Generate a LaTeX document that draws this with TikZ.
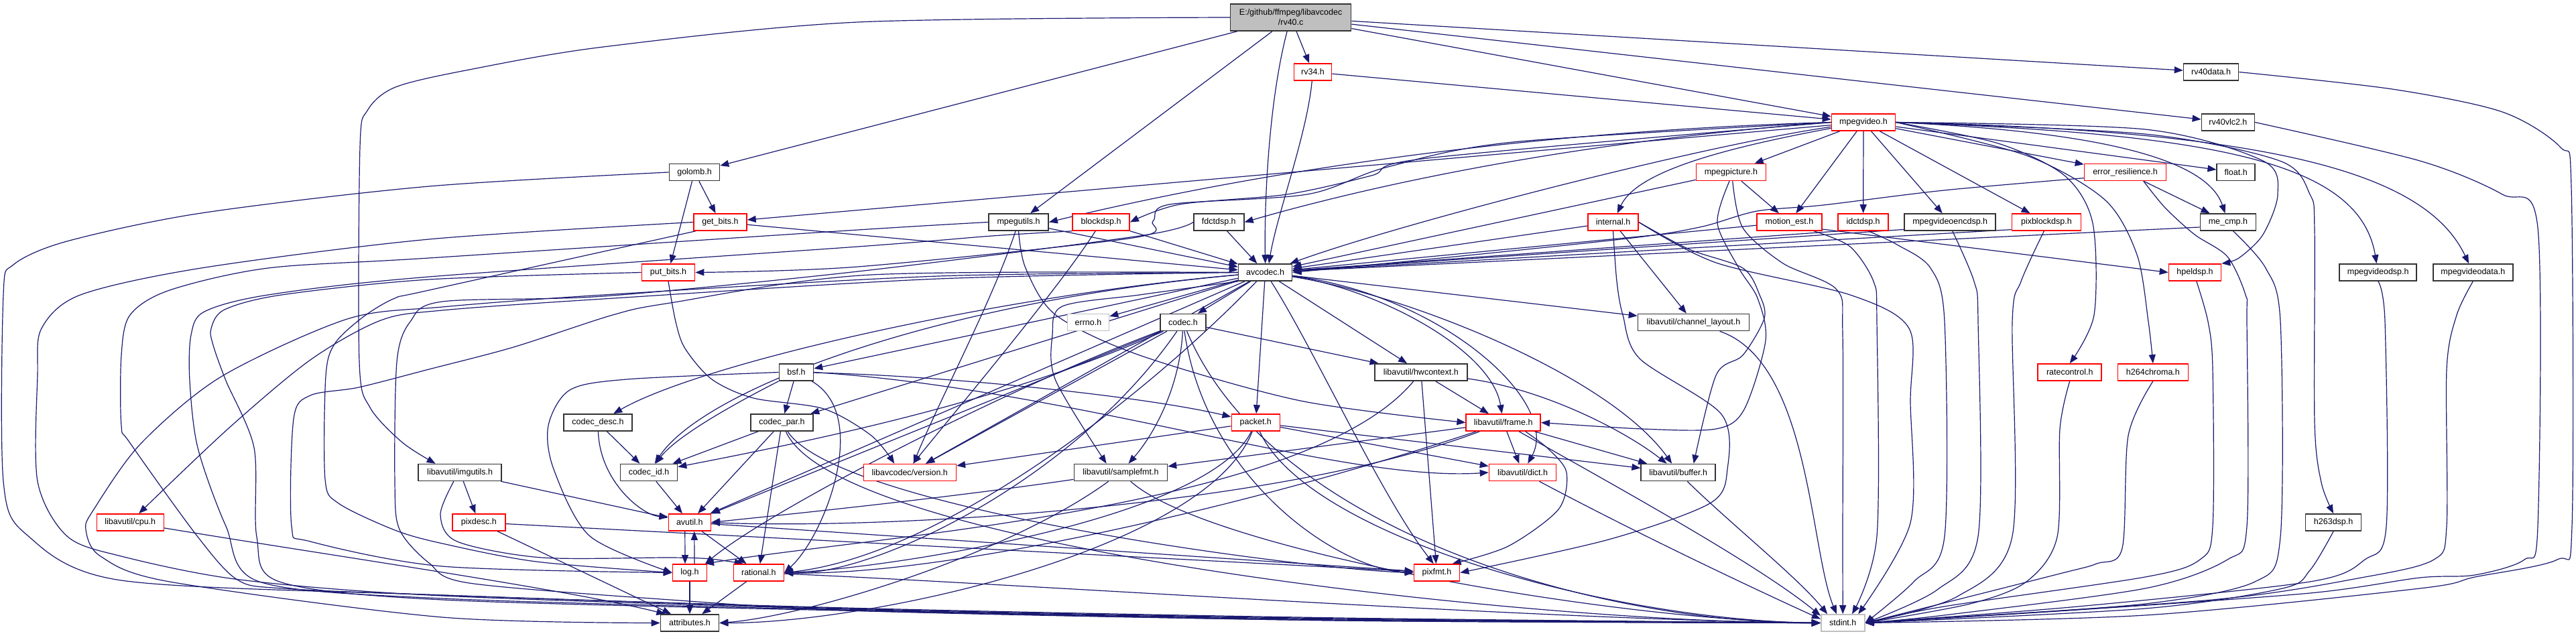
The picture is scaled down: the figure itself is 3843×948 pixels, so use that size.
\documentclass[tikz,border=0pt]{standalone}
\usepackage{fontspec}
\setmainfont{Liberation Sans}
\usetikzlibrary{arrows.meta}
\definecolor{edgeblue}{RGB}{25,25,112}
\definecolor{nodered}{RGB}{255,0,0}
\definecolor{nodeblack}{RGB}{51,51,51}
\definecolor{nodegray}{RGB}{191,191,191}
\definecolor{rootfill}{RGB}{191,191,191}
\pgfdeclarelayer{bgl}
\pgfdeclarelayer{edgel}
\pgfsetlayers{bgl,edgel,main}
\newcommand{\nfont}{\fontsize{12.5}{15}\selectfont}
\tikzset{
  hnode/.style={draw=nodeblack, line width=1.6pt, minimum height=25pt, inner sep=0pt, font=\nfont, fill=white, text=black},
  rnode/.style={hnode, draw=nodered},
  gnode/.style={hnode, draw=nodegray},
  edg/.style={draw=edgeblue, line width=1.2pt, -{Triangle[length=13pt,width=10pt]}},
  sm/.style={smooth, tension=0.5}
}
\begin{document}
\begin{tikzpicture}[x=1pt,y=-1pt]
\useasboundingbox (0,0) rectangle (3843,948);
\begin{pgfonlayer}{bgl}
\fill[white] (0,0) rectangle (3843,948);
\end{pgfonlayer}
% ---------------- nodes ----------------
\node[hnode, fill=rootfill, minimum width=180pt, minimum height=40pt, align=center] (root) at (1925.6,26) {E:/github/ffmpeg/libavcodec\\/rv40.c};
\node[rnode, minimum width=56pt] (rvtf) at (1958.5,107.5) {rv34.h};
\node[hnode, minimum width=82pt] (rvdata) at (3298.6,107.5) {rv40data.h};
\node[hnode, minimum width=79pt] (rvvlc) at (3323.9,182.5) {rv40vlc2.h};
\node[rnode, minimum width=95pt] (mpv) at (2780,182.5) {mpegvideo.h};
\node[hnode, minimum width=75pt] (golomb) at (1036,257) {golomb.h};
\node[rnode, minimum width=104pt] (mpic) at (2582.4,257) {mpegpicture.h};
\node[rnode, minimum width=122pt] (er) at (3170.5,257) {error\_resilience.h};
\node[hnode, minimum width=57pt] (flt) at (3335.7,257) {float.h};
\node[rnode, minimum width=79pt] (getb) at (1074.4,331.5) {get\_bits.h};
\node[hnode, minimum width=89pt] (mpu) at (1519.5,331.5) {mpegutils.h};
\node[rnode, minimum width=85pt] (bdsp) at (1642.6,331.5) {blockdsp.h};
\node[hnode, minimum width=75pt] (fdct) at (1818.3,331.5) {fdctdsp.h};
\node[rnode, minimum width=75pt] (internal) at (2406.5,331.5) {internal.h};
\node[rnode, minimum width=97pt] (me) at (2669.4,331.5) {motion\_est.h};
\node[rnode, minimum width=75pt] (idct) at (2779.6,331.5) {idctdsp.h};
\node[hnode, minimum width=136pt] (mpve) at (2909.2,331.5) {mpegvideoencdsp.h};
\node[rnode, minimum width=103pt] (pixb) at (3052.9,331.5) {pixblockdsp.h};
\node[hnode, minimum width=83pt] (mecmp) at (3323.9,331.5) {me\_cmp.h};
\node[rnode, minimum width=79pt] (putb) at (997,406.5) {put\_bits.h};
\node[hnode, minimum width=80pt] (avc) at (1887.6,406.5) {avcodec.h};
\node[rnode, minimum width=78pt] (hpel) at (3274.5,406.5) {hpeldsp.h};
\node[hnode, minimum width=115pt] (mvdsp) at (3547.7,406.5) {mpegvideodsp.h};
\node[hnode, minimum width=119pt] (mvdata) at (3689.3,406.5) {mpegvideodata.h};
\node[gnode, minimum width=62pt] (errno) at (1623.5,481) {errno.h};
\node[hnode, minimum width=68pt] (codec) at (1765,481) {codec.h};
\node[hnode, minimum width=166pt] (chl) at (2526.5,481) {libavutil/channel\_layout.h};
\node[hnode, minimum width=51pt] (bsf) at (1187.9,555.5) {bsf.h};
\node[hnode, minimum width=138pt] (hw) at (2119.8,555.5) {libavutil/hwcontext.h};
\node[rnode, minimum width=95pt] (rc) at (3087.7,555.5) {ratecontrol.h};
\node[rnode, minimum width=105pt] (h264) at (3211.9,555.5) {h264chroma.h};
\node[hnode, minimum width=102pt] (cdesc) at (892,630.5) {codec\_desc.h};
\node[hnode, minimum width=93pt] (cpar) at (1166.5,630.5) {codec\_par.h};
\node[rnode, minimum width=72pt] (packet) at (1873.3,630.5) {packet.h};
\node[rnode, minimum width=111pt] (frame) at (2242.7,630.5) {libavutil/frame.h};
\node[hnode, minimum width=124pt] (imgu) at (686.2,705) {libavutil/imgutils.h};
\node[hnode, minimum width=85pt] (cid) at (968,705) {codec\_id.h};
\node[rnode, minimum width=138pt] (ver) at (1357.3,705) {libavcodec/version.h};
\node[hnode, minimum width=139pt] (sfmt) at (1671.9,705) {libavutil/samplefmt.h};
\node[rnode, minimum width=100pt] (dict) at (2271.5,705) {libavutil/dict.h};
\node[hnode, minimum width=111pt] (buffer) at (2503.7,705) {libavutil/buffer.h};
\node[rnode, minimum width=100pt] (cpu) at (194.3,779.5) {libavutil/cpu.h};
\node[rnode, minimum width=79pt] (pixdesc) at (714.3,779.5) {pixdesc.h};
\node[rnode, minimum width=63pt] (avutil) at (1028.8,779.5) {avutil.h};
\node[hnode, minimum width=83pt] (h263) at (3481.1,779.5) {h263dsp.h};
\node[rnode, minimum width=51pt] (log) at (1029,854.5) {log.h};
\node[rnode, minimum width=75pt] (rational) at (1131.8,854.5) {rational.h};
\node[rnode, minimum width=68pt] (pixfmt) at (2143.5,854.5) {pixfmt.h};
\node[hnode, minimum width=87pt] (attr) at (1029,929.5) {attributes.h};
\node[gnode, minimum width=65pt] (stdint) at (2749.2,929.5) {stdint.h};
% ---------------- edges ----------------
\begin{pgfonlayer}{edgel}
% root
\draw[edg] plot[sm] coordinates {(root.west) (1280,33) (900,70) (700,104) (590,130) (548,165) (537,220) (536,540) (552,608) (600,660) (imgu.160)};
\draw[edg] (root) -- (golomb);
\draw[edg] (root) -- (mpu);
\draw[edg] (root) .. controls (1893,150) and (1886,300) .. (avc.north);
\draw[edg] (root) -- (rvtf);
\draw[edg] (root) -- (mpv);
\draw[edg] (root) -- (rvvlc);
\draw[edg] (root) -- (rvdata);
% rv34
\draw[edg] (rvtf) -- (mpv);
\draw[edg] (rvtf) .. controls (1950,200) and (1905,320) .. (avc.68);
% golomb
\draw[edg] (golomb) -- (getb);
\draw[edg] (golomb) -- (putb);
\draw[edg] plot[sm] coordinates {(golomb.west) (640,278) (300,318) (100,360) (20,395) (5,440) (5,718) (40,798) (181,866) (660,888) (1300,908) (2000,922) (stdint.west)};
% get_bits
\draw[edg] (getb) -- (avc);
\draw[edg] plot[sm] coordinates {(getb.west) (640,357) (300,400) (120,440) (62,490) (56,560) (56,718) (100,800) (181,830) (358,865) (660,889) (1300,910) (2000,924) (stdint.west)};
\draw[edg] plot[sm] coordinates {(getb.200) (640,433) (589,445) (543,472) (500,512) (486,561) (485,715) (505,751) (589,791) (660,811) (800,838) (log.west)};
% put_bits
\draw[edg] plot[sm] coordinates {(putb.west) (640,417) (420,440) (335,462) (315,490) (318,515) (337,568) (379,668) (383,801) (417,868) (660,895) (1300,912) (2000,926) (stdint.west)};
\draw[edg] plot[sm] coordinates {(putb.south) (1008,480) (1022,520) (1062,566) (1124,594) (1229,610) (1300,650) (ver.150)};
% mpegutils
\draw[edg] (mpu) -- (avc);
\draw[edg] plot[sm] coordinates {(mpu.west) (1280,343) (640,385) (400,400) (253,433) (194,470) (181,530) (181,635) (194,661) (295,801) (354,865) (421,878) (660,888) (1300,909) (2000,923) (stdint.west)};
\draw[edg] plot[sm] coordinates {(mpu.south) (1530,400) (1575,470) (1700,530) (1940,598) (frame.west)};
\draw[edg] (mpu) .. controls (1480,450) and (1400,600) .. (ver);
% blockdsp
\draw[edg] (bdsp) -- (avc);
\draw[edg] plot[sm] coordinates {(bdsp.south west) (1480,352) (1280,368) (640,413) (400,440) (305,465) (285,500) (283,568) (295,668) (337,785) (387,868) (660,893) (1300,911) (2000,925) (stdint.west)};
\draw[edg] (bdsp) .. controls (1580,430) and (1420,620) .. (ver.70);
% fdctdsp
\draw[edg] (fdct) -- (avc);
\draw[edg] plot[sm] coordinates {(fdct.west) (1700,352) (1280,405) (900,442) (660,450) (612,480) (592,540) (589,720) (596,790) (640,840) (700,870) (1000,895) (1300,912) (2000,926) (stdint.west)};
% avcodec
\draw[edg] (avc) -- (errno);
\draw[edg] (avc) -- (codec);
\draw[edg] (avc) -- (chl);
\draw[edg] (avc) -- (hw);
\draw[edg] (avc) .. controls (2050,430) and (2225,520) .. (frame);
\draw[edg] (avc) -- (packet);
\draw[edg] (avc) .. controls (2150,440) and (2330,600) .. (dict.60);
\draw[edg] (avc) .. controls (2100,440) and (2400,560) .. (buffer);
\draw[edg] plot[sm] coordinates {(avc.south west) (1700,440) (1585,457) (1570,500) (1575,568) (sfmt.148)};
\draw[edg] (avc) -- (bsf);
\draw[edg] (avc) .. controls (1500,440) and (1050,540) .. (cdesc);
\draw[edg] (avc) -- (cpar);
\draw[edg] (avc) .. controls (1400,450) and (1050,580) .. (cid);
\draw[edg] (avc) -- (ver);
\draw[edg] (avc) -- (avutil);
\draw[edg] plot[sm] coordinates {(avc.west) (1300,410) (1000,452) (914,470) (766,518) (640,551) (535,578) (463,590) (438,625) (435,785) (463,808) (660,845) (log.west)};
\draw[edg] (avc) .. controls (1700,600) and (1400,830) .. (rational.east);
\draw[edg] (avc) .. controls (1960,520) and (2060,740) .. (pixfmt.110);
\draw[edg] plot[sm] coordinates {(avc.west) (1400,412) (900,440) (660,458) (518,476) (330,562) (210,662) (140,760) (128,790) (150,830) (253,868) (660,921) (attr.west)};
\draw[edg] plot[sm] coordinates {(avc.west) (1400,416) (900,446) (660,463) (568,478) (463,537) (340,640) (cpu.46)};
% codec.h
\draw[edg] (codec) -- (hw);
\draw[edg] (codec) .. controls (1760,580) and (1720,650) .. (sfmt);
\draw[edg] (codec) -- (ver);
\draw[edg] (codec) .. controls (1500,600) and (1200,660) .. (cid);
\draw[edg] (codec) -- (avutil);
\draw[edg] (codec) .. controls (1500,580) and (1150,760) .. (log.30);
\draw[edg] (codec) .. controls (1800,720) and (2000,850) .. (pixfmt.west);
\draw[edg] (codec) .. controls (1600,720) and (1300,860) .. (rational.east);
\draw[edg] (codec) .. controls (1900,800) and (2400,930) .. (stdint.west);
% bsf.h
\draw[edg] (bsf) -- (cpar);
\draw[edg] (bsf) .. controls (1100,600) and (1010,650) .. (cid);
\draw[edg] (bsf) .. controls (1400,560) and (1700,590) .. (packet);
\draw[edg] (bsf.east) .. controls (1600,580) and (2000,720) .. (dict.west);
\draw[edg] plot[sm] coordinates {(bsf.west) (935,566) (850,582) (818,635) (826,700) (880,800) (log.west)};
\draw[edg] (bsf) .. controls (1300,620) and (1230,800) .. (rational.east);
% codec_desc / codec_id
\draw[edg] (cdesc) -- (cid);
\draw[edg] (cdesc) .. controls (895,720) and (960,770) .. (avutil.165);
\draw[edg] (cid) -- (avutil);
% codec_par
\draw[edg] (cpar) -- (cid);
\draw[edg] (cpar) -- (avutil);
\draw[edg] (cpar) -- (rational);
\draw[edg] (cpar) .. controls (1250,760) and (1950,850) .. (pixfmt.west);
\draw[edg] (cpar) .. controls (1250,820) and (2300,930) .. (stdint.west);
% packet
\draw[edg] (packet) -- (ver);
\draw[edg] (packet) -- (buffer);
\draw[edg] (packet) -- (dict);
\draw[edg] (packet) .. controls (1800,780) and (1300,850) .. (rational.east);
\draw[edg] (packet) .. controls (1800,820) and (1300,930) .. (attr.east);
\draw[edg] (packet) .. controls (1950,800) and (2400,925) .. (stdint.west);
% samplefmt
\draw[edg] (sfmt) .. controls (1400,745) and (1150,770) .. (avutil.east);
\draw[edg] (sfmt) .. controls (1500,830) and (1200,920) .. (attr.east);
\draw[edg] (sfmt) .. controls (1800,820) and (2400,925) .. (stdint.west);
% hwcontext
\draw[edg] (hw) -- (frame);
\draw[edg] (hw) .. controls (2300,580) and (2420,640) .. (buffer);
\draw[edg] (hw) -- (pixfmt);
\draw[edg] (hw) .. controls (1950,760) and (1300,800) .. (log.30);
% frame
\draw[edg] (frame) -- (dict);
\draw[edg] (frame) -- (buffer);
\draw[edg] (frame) -- (sfmt);
\draw[edg] (frame) .. controls (1900,760) and (1300,790) .. (avutil.east);
\draw[edg] (frame) .. controls (1850,760) and (1400,860) .. (rational.east);
\draw[edg] plot[sm] coordinates {(frame.-22) (2310,670) (2337,705) (2325,760) (2250,815) (pixfmt.30)};
\draw[edg] (frame) .. controls (2400,720) and (2620,840) .. (stdint.162);
% dict, buffer, channel_layout, cpu
\draw[edg] (dict) .. controls (2450,800) and (2620,880) .. (stdint.170);
\draw[edg] (buffer) .. controls (2580,780) and (2680,860) .. (stdint.150);
\draw[edg] (chl) .. controls (2700,540) and (2700,820) .. (stdint.125);
\draw[edg] (cpu) .. controls (500,830) and (850,880) .. (attr.160);
% avutil, log, rational, pixdesc, imgutils
\draw[edg] ([xshift=-7pt]avutil.south) -- ([xshift=-7pt]log.north);
\draw[edg] ([xshift=7pt]log.north) -- ([xshift=7pt]avutil.south);
\draw[edg] (avutil) -- (rational);
\draw[edg] (avutil) -- (pixfmt);
\draw[edg] (log) -- (attr);
\draw[edg] (rational) -- (attr);
\draw[edg] (rational) .. controls (1500,870) and (2300,925) .. (stdint.west);
\draw[edg] (pixdesc) -- (attr);
\draw[edg] (pixdesc) -- (pixfmt);
\draw[edg] (imgu) -- (pixdesc);
\draw[edg] (imgu) -- (avutil);
\draw[edg] plot[sm] coordinates {(imgu.235) (657,768) (682,808) (808,832) (1000,832) (1060,834) (rational.150)};
% mpegvideo
\draw[edg] (mpv) -- (mpic);
\draw[edg] (mpv) -- (me);
\draw[edg] (mpv) -- (idct);
\draw[edg] (mpv) -- (mpve);
\draw[edg] (mpv) -- (pixb);
\draw[edg] (mpv) -- (er);
\draw[edg] (mpv) -- (flt);
\draw[edg] (mpv.east) .. controls (3100,195) and (3290,230) .. (mecmp);
\draw[edg] plot[sm] coordinates {(mpv.east) (3200,193) (3376,240) (3398,290) (3376,350) (3340,385) (hpel.north east)};
\draw[edg] plot[sm] coordinates {(mpv.east) (3200,200) (3401,240) (3446,290) (3453,345) (3453,630) (3463,720) (h263.north)};
\draw[edg] (mpv.east) .. controls (3300,200) and (3520,240) .. (mvdsp);
\draw[edg] (mpv.east) .. controls (3400,195) and (3620,260) .. (mvdata);
\draw[edg] plot[sm] coordinates {(mpv.east) (2981,214) (3080,262) (3122,333) (3124,470) (rc.north)};
\draw[edg] plot[sm] coordinates {(mpv.east) (3023,232) (3140,298) (3188,380) (3205,480) (h264.north)};
\draw[edg] (mpv) .. controls (2550,215) and (2100,330) .. (avc);
\draw[edg] (mpv) .. controls (2550,225) and (2440,260) .. (internal);
\draw[edg] (mpv) -- (getb);
\draw[edg] plot[sm] coordinates {(mpv.west) (2257,212) (2067,250) (1950,290) (1745,305) (1720,330) (1690,355) (1280,398) (putb.east)};
\draw[edg] (mpv.west) .. controls (2300,195) and (1900,250) .. (mpu.east);
\draw[edg] plot[sm] coordinates {(mpv.west) (2130,236) (2046,262) (1920,290) (1760,305) (bdsp.east)};
\draw[edg] (mpv.west) .. controls (2300,215) and (2000,290) .. (fdct.east);
% mpegpicture
\draw[edg] (mpic) -- (me);
\draw[edg] (mpic) -- (avc);
\draw[edg] plot[sm] coordinates {(mpic.-80) (2600,340) (2660,393) (2740,432) (2749,500) (2749,800) (stdint.north)};
\draw[edg] plot[sm] coordinates {(mpic.-100) (2562,333) (2594,400) (2622,445) (2634,508) (2602,611) (2560,640) (2450,640) (frame.east)};
% internal
\draw[edg] (internal) -- (avc);
\draw[edg] (internal) -- (chl);
\draw[edg] plot[sm] coordinates {(internal.east) (2520,372) (2600,400) (2625,440) (2632,475) (2600,530) (2560,560) (buffer.30)};
\draw[edg] plot[sm] coordinates {(internal.south) (2412,420) (2421,470) (2446,535) (2568,618) (2577,700) (2551,751) (2400,805) (pixfmt.east)};
\draw[edg] plot[sm] coordinates {(internal.east) (2560,392) (2760,440) (2848,490) (2850,600) (2850,780) (stdint.30)};
% motion_est
\draw[edg] (me) -- (avc);
\draw[edg] (me.-12) -- (hpel.west);
\draw[edg] plot[sm] coordinates {(me.-20) (2760,368) (2795,420) (2800,480) (2800,800) (stdint.44)};
% idctdsp, mpegvideoencdsp, pixblockdsp
\draw[edg] (idct.200) -- (avc);
\draw[edg] plot[sm] coordinates {(idct.-60) (2830,365) (2880,400) (2901,480) (2901,800) (2855,868) (stdint.east)};
\draw[edg] (mpve.189.6) -- (avc);
\draw[edg] plot[sm] coordinates {(mpve.-75) (2945,420) (2951,480) (2951,800) (2890,880) (stdint.east)};
\draw[edg] (pixb.192.6) -- (avc);
\draw[edg] plot[sm] coordinates {(pixb.-105) (3015,420) (3002,480) (3002,800) (2920,890) (stdint.east)};
% error_resilience
\draw[edg] plot[sm] coordinates {(er.188) (2900,284) (2720,306) (2621,315) (2540,338) (2444,354) (2200,380) (avc.east)};
\draw[edg] (er) -- (mecmp);
\draw[edg] plot[sm] coordinates {(er.-26) (3230,310) (3274,350) (3323,383) (3350,440) (3352,480) (3352,785) (3323,835) (3200,878) (2900,918) (stdint.east)};
% me_cmp
\draw[edg] (mecmp.190) -- (avc);
\draw[edg] plot[sm] coordinates {(mecmp.-60) (3380,400) (3402,480) (3402,801) (3364,868) (3200,901) (2900,922) (stdint.east)};
% hpeldsp
\draw[edg] plot[sm] coordinates {(hpel.-80) (3294,480) (3301,551) (3301,785) (3282,835) (3200,861) (2900,905) (stdint.east)};
% right column
\draw[edg] plot[sm] coordinates {(mvdsp.south) (3558,480) (3560,785) (3528,835) (3446,868) (3100,905) (stdint.east)};
\draw[edg] plot[sm] coordinates {(mvdata.south) (3665,470) (3650,551) (3650,785) (3631,835) (3528,861) (3300,895) (stdint.east)};
\draw[edg] plot[sm] coordinates {(h263.south) (3446,851) (3405,878) (3200,908) (stdint.east)};
\draw[edg] plot[sm] coordinates {(rc.south) (3073,640) (3069,801) (3023,868) (2939,901) (stdint.east)};
\draw[edg] plot[sm] coordinates {(h264.south) (3175,650) (3166,818) (3128,841) (3065,858) (stdint.east)};
\draw[edg] plot[sm] coordinates {(rvvlc.east) (3610,240) (3733,290) (3786,340) (3786,785) (3766,835) (3692,858) (3610,862) (3446,885) (3100,910) (stdint.east)};
\draw[edg] plot[sm] coordinates {(rvdata.east) (3569,133) (3733,167) (3820,220) (3836,280) (3837,785) (3815,835) (3692,861) (3610,878) (3200,918) (stdint.east)};
\end{pgfonlayer}
\end{tikzpicture}
\end{document}
